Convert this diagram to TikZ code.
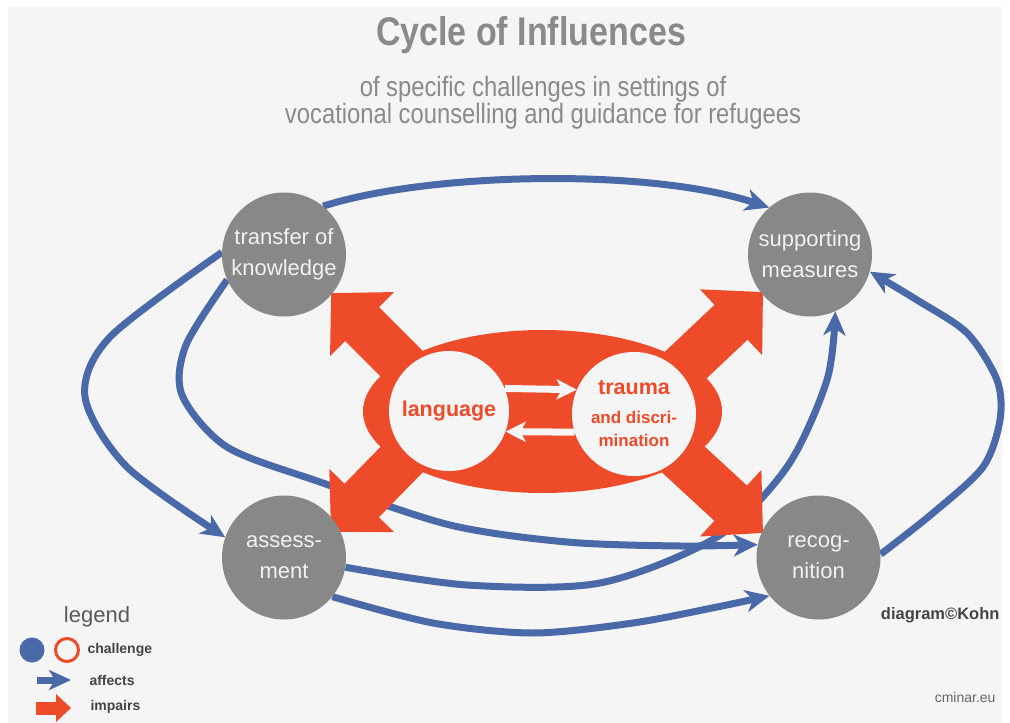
\documentclass[tikz,border=0pt]{standalone}
\usepackage{fontspec}
\setmainfont{Liberation Sans}
\newfontfamily\narrowfont[FakeStretch=0.85]{Liberation Sans}
\usetikzlibrary{arrows.meta}
\pgfdeclarelayer{under}
\pgfsetlayers{under,main}
\definecolor{impaircol}{HTML}{EE4B2B}
\definecolor{affectcol}{HTML}{4A69A8}
\definecolor{circlecol}{HTML}{888888}
\definecolor{paper}{HTML}{F5F5F5}
\definecolor{titlecol}{HTML}{8A8A8A}
\definecolor{notecol}{HTML}{444444}

\begin{document}
\begin{tikzpicture}[x=1pt,y=-1pt,
  field/.style={circle,fill=circlecol,minimum size=124pt,inner sep=0pt,text=white!95!black,align=center,font=\fontsize{22}{31}\selectfont},
  challenge/.style={circle,fill=paper,inner sep=0pt,text=impaircol,align=center},
  affects/.style={affectcol,line width=7pt,-{Stealth[length=24pt,width=22pt,inset=7pt]}},
  impairs/.style={impaircol,line width=48pt,-{Triangle[length=44pt,width=88pt]}},
  mutual/.style={paper,line width=7pt,-{Stealth[length=20pt,width=20pt,inset=5pt]}}]
\useasboundingbox (0,0) rectangle (1010,723);
\fill[impaircol](542.5,411.5) ellipse[x radius=179.5,y radius=81.5];
\node[challenge,minimum size=120pt,font=\bfseries\fontsize{21.5}{24}\selectfont] (lang) at (449,411) {language};
\node[challenge,minimum size=124pt,font=\bfseries\fontsize{17}{23}\selectfont] (trauma) at (634,414) {{\fontsize{21.5}{24}\selectfont trauma}\\[6pt]and discri-\\mination};
\draw[mutual](lang.22)--(trauma.157);
\draw[mutual](trauma.197)--(lang.-20);
\node[field] (tok) at (284,254.5) {transfer of\\knowledge};
\node[field] (sup) at (810,254.5) {supporting\\measures};
\node[field] (ass) at (284,557.5) {assess-\\ment};
\node[field] (rec) at (818.5,557.5) {recog-\\nition};
\coordinate (hitTL) at (331,293);
\coordinate (hitTR) at (763,292);
\coordinate (hitBL) at (331,532);
\coordinate (hitBR) at (763,533);
\begin{pgfonlayer}{under}
\fill[white](0,0) rectangle (1010,723);
\fill[paper](8,7) rectangle (1002,723);
\draw[affects](tok.51) .. controls (430,172) and (650,168) .. (sup.131);
\draw[affects]plot[smooth] coordinates{(tok.178) (110,337) (85,397) (127,467) (ass.161)};
\draw[affects]plot[smooth] coordinates{(tok.204) (186,345) (182,395) (227,447) (320,482) (450,525) (567,542) (680,546) (rec.168)};
\draw[affects]plot[smooth] coordinates{(ass.-9) (467,585) (600,583) (717,537) (787,467) (827,380) (sup.-66)};
\draw[affects]plot[smooth] coordinates{(ass.-39) (433,623) (533,633) (633,623) (717,607) (rec.218)};
\draw[affects]plot[smooth] coordinates{(rec.3) (933,513) (983,467) (1000,420) (997,380) (967,333) (917,300) (sup.-16)};
\draw[impairs](lang.center)--(hitTL);
\draw[impairs](lang.center)--(hitBL);
\draw[impairs](trauma.center)--(hitTR);
\draw[impairs](trauma.center)--(hitBR);
\end{pgfonlayer}
\node[text=titlecol,font=\narrowfont\bfseries\fontsize{40}{42}\selectfont] (title) at (531,35) {Cycle of Influences};
\node[text=titlecol,align=center,font=\narrowfont\fontsize{28}{25}\selectfont] (subtitle) at (543,103) {of specific challenges in settings of\\vocational counselling and guidance for refugees};
\node[text=black!65,font=\fontsize{22}{24}\selectfont] (legend) at (97,617) {legend};
\node[circle,fill=affectcol,minimum size=25pt,inner sep=0pt] (ldot) at (32,650) {};
\node[circle,draw=impaircol,line width=3pt,minimum size=23pt,inner sep=0pt] (lring) at (67,650) {};
\node[anchor=west,text=notecol,font=\bfseries\fontsize{14}{16}\selectfont] (lchal) at (84,650) {challenge};
\node[anchor=west,text=notecol,font=\bfseries\fontsize{14}{16}\selectfont] (laff) at (86,680) {affects};
\node[anchor=west,text=notecol,font=\bfseries\fontsize{14}{16}\selectfont] (limp) at (87,707) {impairs};
\coordinate (la) at (37,680);
\coordinate (lb) at (71,680);
\coordinate (lc) at (36,708);
\coordinate (ld) at (71,708);
\draw[affects,-{Stealth[length=22pt,width=20pt,inset=6pt]}](la)--(lb);
\draw[impaircol,line width=13pt,-{Triangle[length=15pt,width=27pt]}](lc)--(ld);
\node[anchor=east,text=notecol,font=\bfseries\fontsize{16.5}{18}\selectfont] (credit) at (1003,615) {diagram©Kohn};
\node[anchor=east,text=black!60,font=\fontsize{14}{16}\selectfont] (site) at (999,697) {cminar.eu};
\end{tikzpicture}
\end{document}
